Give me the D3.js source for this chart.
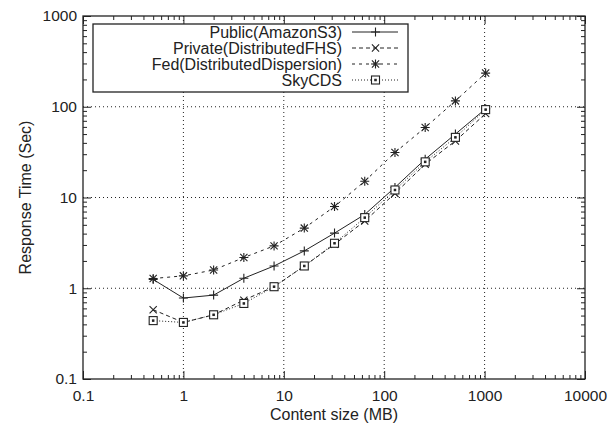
<!DOCTYPE html>
<html>
<head>
<meta charset="utf-8">
<script src="https://cdn.jsdelivr.net/npm/d3@7"></script>
<style>
  body { margin: 0; background: #fff; }
  svg text { font-family: "Liberation Sans", Arial, sans-serif; fill: #222; }
</style>
</head>
<body>
<svg id="chart" width="610" height="427"></svg>
<script>
var sizes = [0.5, 1, 2, 4, 8, 16, 32, 64, 128, 256, 512, 1024];
var publicS3 = [1.25, 0.78, 0.84, 1.29, 1.76, 2.58, 4.05, 6.5, 12.9, 26.4, 50, 95];
var privateFHS = [0.58, 0.42, 0.51, 0.74, 1.04, 1.76, 3.05, 5.5, 11.1, 23.3, 42, 84];
var fedDisp = [1.28, 1.37, 1.59, 2.18, 2.93, 4.6, 7.95, 15.1, 31.3, 59, 116, 235];
var skyCDS = [0.44, 0.42, 0.51, 0.68, 1.04, 1.76, 3.13, 6.0, 12.1, 24.7, 46, 93];

var seriesNames = ["Public(AmazonS3)", "Private(DistributedFHS)", "Fed(DistributedDispersion)", "SkyCDS"];
var xTicks = [0.1, 1, 10, 100, 1000, 10000];
var yTicks = [0.1, 1, 10, 100, 1000];

var margin = {top: 16, right: 25, bottom: 48, left: 83},
  width = 610 - margin.left - margin.right,
  height = 427 - margin.top - margin.bottom;

var ink = "#222";

var x = d3.scaleLog().domain([0.1, 10000]).range([0, width]);
var y = d3.scaleLog().domain([0.1, 1000]).range([height, 0]);

function minors(ticks) {
  var out = [];
  for (var i = 0; i < ticks.length - 1; i++)
    for (var k = 2; k <= 9; k++) out.push(ticks[i] * k);
  return out;
}

var svg = d3.select("#chart");
var g = svg.append("g").attr("transform", "translate(" + margin.left + "," + margin.top + ")");

// grid
g.selectAll(".gx").data(xTicks.slice(1, -1)).enter().append("line")
  .attr("x1", d => x(d)).attr("x2", d => x(d)).attr("y1", 0).attr("y2", height)
  .attr("stroke", ink).attr("stroke-width", 1).attr("stroke-dasharray", "1,3");
g.selectAll(".gy").data(yTicks.slice(1, -1)).enter().append("line")
  .attr("y1", d => y(d)).attr("y2", d => y(d)).attr("x1", 0).attr("x2", width)
  .attr("stroke", ink).attr("stroke-width", 1).attr("stroke-dasharray", "1,3");

function fmt(d) { return String(d); }

// axes, ticks point inward
function styleAxis(sel) {
  sel.select(".domain").remove();
  sel.selectAll("line").attr("stroke", ink);
  sel.selectAll("text").style("font-size", "15.5px").attr("fill", ink);
}

g.append("g").attr("transform", "translate(0," + height + ")")
  .call(d3.axisBottom(x).tickValues(xTicks).tickFormat(fmt).tickSize(-8).tickPadding(11))
  .call(styleAxis);
g.append("g").attr("transform", "translate(0," + height + ")")
  .call(d3.axisBottom(x).tickValues(minors(xTicks)).tickFormat("").tickSize(-4))
  .call(styleAxis);
g.append("g")
  .call(d3.axisTop(x).tickValues(xTicks).tickFormat("").tickSize(-8))
  .call(styleAxis);
g.append("g")
  .call(d3.axisTop(x).tickValues(minors(xTicks)).tickFormat("").tickSize(-4))
  .call(styleAxis);

g.append("g")
  .call(d3.axisLeft(y).tickValues(yTicks).tickFormat(fmt).tickSize(-8).tickPadding(6))
  .call(styleAxis);
g.append("g")
  .call(d3.axisLeft(y).tickValues(minors(yTicks)).tickFormat("").tickSize(-4))
  .call(styleAxis);
g.append("g").attr("transform", "translate(" + width + ",0)")
  .call(d3.axisRight(y).tickValues(yTicks).tickFormat("").tickSize(-8))
  .call(styleAxis);
g.append("g").attr("transform", "translate(" + width + ",0)")
  .call(d3.axisRight(y).tickValues(minors(yTicks)).tickFormat("").tickSize(-4))
  .call(styleAxis);

g.append("rect").attr("width", width).attr("height", height)
  .attr("fill", "none").attr("stroke", ink).attr("stroke-width", 1.3);

// markers
function marker(sel, type) {
  var s = 4.5;
  if (type === "plus" || type === "star")
    sel.append("path").attr("d", "M" + (-s) + ",0H" + s + "M0," + (-s) + "V" + s);
  if (type === "cross" || type === "star")
    sel.append("path").attr("d", "M-3.6,-3.6L3.6,3.6M-3.6,3.6L3.6,-3.6");
  if (type === "square") {
    sel.append("rect").attr("x", -4).attr("y", -4).attr("width", 8).attr("height", 8)
      .attr("fill", "#fff");
    sel.append("rect").attr("x", -0.7).attr("y", -0.7).attr("width", 1.4).attr("height", 1.4)
      .attr("fill", ink).attr("stroke", "none");
  }
  sel.selectAll("path, rect").attr("stroke", ink).attr("stroke-width", 1.1);
  sel.selectAll("path").attr("fill", "none");
}

var series = [
  {name: seriesNames[0], values: publicS3, dash: null, mark: "plus"},
  {name: seriesNames[1], values: privateFHS, dash: "4,3", mark: "cross"},
  {name: seriesNames[2], values: fedDisp, dash: "3,4", mark: "star"},
  {name: seriesNames[3], values: skyCDS, dash: "1,2", mark: "square"}
];

var line = d3.line().x(d => x(d[0])).y(d => y(d[1]));

series.forEach(function (s) {
  var pts = sizes.map((d, i) => [d, s.values[i]]);
  g.append("path").datum(pts).attr("d", line)
    .attr("fill", "none").attr("stroke", ink).attr("stroke-width", 1)
    .attr("stroke-dasharray", s.dash);
  g.selectAll(null).data(pts).enter().append("g")
    .attr("transform", d => "translate(" + x(d[0]) + "," + y(d[1]) + ")")
    .each(function () { marker(d3.select(this), s.mark); });
});

// legend
var leg = svg.append("g");
leg.append("rect").attr("x", 93).attr("y", 24).attr("width", 315).attr("height", 68)
  .attr("fill", "#fff").attr("stroke", ink).attr("stroke-width", 1.3);
series.forEach(function (s, i) {
  var cy = 32 + i * 16;
  leg.append("text").attr("x", 342).attr("y", cy).attr("dy", "0.35em")
    .attr("text-anchor", "end").style("font-size", "16px").text(s.name);
  leg.append("line").attr("x1", 352).attr("x2", 398).attr("y1", cy).attr("y2", cy)
    .attr("stroke", ink).attr("stroke-width", 1).attr("stroke-dasharray", s.dash);
  var m = leg.append("g").attr("transform", "translate(375.5," + cy + ")");
  marker(m, s.mark);
});

// axis titles
svg.append("text").attr("x", margin.left + width / 2).attr("y", 420)
  .attr("text-anchor", "middle").style("font-size", "16px").text("Content size (MB)");
svg.append("text").attr("transform", "translate(31," + (margin.top + height / 2) + ") rotate(-90)")
  .attr("text-anchor", "middle").style("font-size", "16px").text("Response Time (Sec)");
</script>
</body>
</html>
